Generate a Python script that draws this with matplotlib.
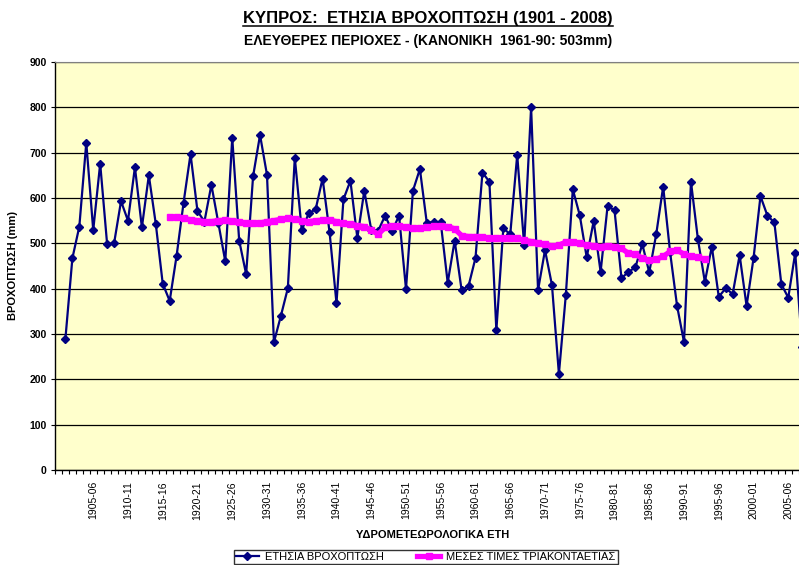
import numpy as np
import matplotlib
matplotlib.use("Agg")
import matplotlib.pyplot as plt
from matplotlib.lines import Line2D

plt.rcParams["font.family"] = ["Liberation Sans", "DejaVu Sans"]

# hydrological years 1901-02 ... 2007-08 (start year)
years = np.arange(1901, 2008)

# annual rainfall (mm)
rain = [
    290, 467, 537, 722, 529, 676, 498, 500, 593, 550,
    668, 535, 650, 543, 411, 373, 473, 590, 697, 571,
    548, 629, 545, 460, 733, 506, 432, 648, 739, 651,
    282, 340, 401, 689, 529, 566, 575, 643, 525, 368,
    597, 638, 512, 616, 530, 528, 561, 527, 561, 399,
    616, 664, 544, 548, 546, 413, 506, 397, 406, 468,
    656, 636, 308, 533, 520, 695, 496, 800, 397, 485,
    408, 212, 387, 619, 562, 469, 549, 437, 582, 573,
    423, 437, 447, 498, 436, 520, 625, 480, 362, 282,
    636, 509, 415, 493, 382, 401, 388, 474, 362, 467,
    604, 561, 546, 410, 380, 479, 271,
]

# 30-year means, plotted from 1916-17 to 1993-94
ma_years = np.arange(1916, 1994)
ma = [
    557, 557, 555, 552, 550, 548, 548, 550, 551, 550,
    547, 545, 544, 545, 548, 550, 553, 555, 554, 549,
    548, 550, 551, 551, 548, 544, 543, 539, 537, 529,
    520, 535, 539, 538, 535, 533, 533, 535, 538, 538,
    537, 532, 517, 515, 515, 513, 512, 511, 511, 511,
    511, 507, 504, 501, 498, 494, 496, 503, 503, 500,
    496, 495, 493, 495, 493, 489, 478, 476, 467, 463,
    465, 471, 482, 485, 476, 471, 469, 465,
]

label_years = np.arange(1905, 2006, 5)
tick_labels = [f"{y}-{(y + 1) % 100:02d}" for y in label_years]

NAVY = "#000080"
MAGENTA = "#FF00FF"

fig = plt.figure(figsize=(7.99, 5.65), dpi=100)
ax = fig.add_axes([55 / 799, 95 / 565, 757.6 / 799, 408 / 565])
ax.set_facecolor("#FFFFCC")

x_rain = years - 1900
x_ma = ma_years - 1900

ax.plot(x_rain, rain, color=NAVY, lw=1.6, marker="D", ms=4.2,
        label="ΕΤΗΣΙΑ ΒΡΟΧΟΠΤΩΣΗ", zorder=3)
ax.plot(x_ma, ma, color=MAGENTA, lw=3.8, marker="s", ms=4.0,
        label="ΜΕΣΕΣ ΤΙΜΕΣ ΤΡΙΑΚΟΝΤΑΕΤΙΑΣ", zorder=4)

ax.set_xlim(-0.5, 108.5)
ax.set_ylim(0, 900)
ax.set_yticks(np.arange(0, 901, 100))
ax.yaxis.grid(True, color="black", lw=0.9)
ax.set_axisbelow(True)

ax.set_xticks(label_years - 1900)
ax.set_xticklabels(tick_labels, rotation=90, fontsize=7.5)
ax.set_xticks(np.arange(-0.5, 109, 1), minor=True)
ax.tick_params(axis="x", which="major", length=0, pad=8)
ax.tick_params(axis="x", which="minor", length=3, width=0.8, direction="out")
ax.tick_params(axis="y", length=3, width=0.8, direction="out", pad=3)
for lab in ax.get_yticklabels():
    lab.set_fontsize(7.5)
    lab.set_fontweight("bold")

for side in ["top", "right"]:
    ax.spines[side].set_color("#808080")
for side in ["left", "bottom"]:
    ax.spines[side].set_color("black")
    ax.spines[side].set_linewidth(1.0)

ax.set_ylabel("ΒΡΟΧΟΠΤΩΣΗ (mm)", fontsize=8, fontweight="bold", labelpad=8)
fig.text(433 / 799, 1 - 535 / 565, "ΥΔΡΟΜΕΤΕΩΡΟΛΟΓΙΚΑ ΕΤΗ", ha="center",
         va="center", fontsize=8, fontweight="bold")

title = fig.text(428 / 799, 1 - 19 / 565, "ΚΥΠΡΟΣ:  ΕΤΗΣΙΑ ΒΡΟΧΟΠΤΩΣΗ (1901 - 2008)",
                 ha="center", va="center", fontsize=12, fontweight="bold")
fig.text(428 / 799, 1 - 41 / 565, "ΕΛΕΥΘΕΡΕΣ ΠΕΡΙΟΧΕΣ - (ΚΑΝΟΝΙΚΗ  1961-90: 503mm)",
         ha="center", va="center", fontsize=10, fontweight="bold")

# underline the main title
renderer = fig.canvas.get_renderer()
bb = title.get_window_extent(renderer).transformed(fig.transFigure.inverted())
fig.add_artist(Line2D([bb.x0, bb.x1], [bb.y0 + 0.001, bb.y0 + 0.001],
                      color="black", lw=1.1, transform=fig.transFigure))

leg = fig.legend(loc="upper center", bbox_to_anchor=(426 / 799, 1 - 544 / 565),
                 ncol=2, fontsize=8, frameon=True, fancybox=False,
                 edgecolor="black", handlelength=2.0, columnspacing=3.0,
                 handletextpad=0.6, borderpad=0.2)
leg.get_frame().set_linewidth(1.0)

fig.savefig("out.png", dpi=100)
